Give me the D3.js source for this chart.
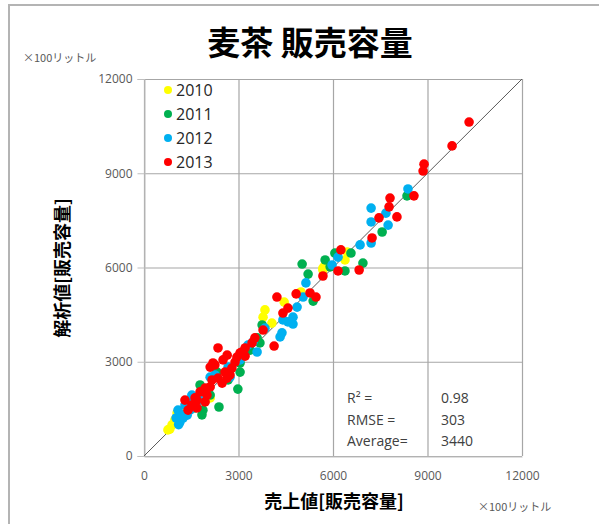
<!DOCTYPE html>
<html>
<head>
<meta charset="utf-8">
<script src="https://cdn.jsdelivr.net/npm/d3@7"></script>
<style>
  html, body { margin: 0; padding: 0; background: #ffffff; }
  svg { display: block; }
</style>
</head>
<body>
<svg id="chart" width="599" height="524"></svg>
<script>
// Tick values shared by both axes (unit: ×100 litres)
const tickValues = [0, 3000, 6000, 9000, 12000];
const years = ["2010", "2011", "2012", "2013"];
const yearColors = ["#ffff00", "#00b050", "#00b0f0", "#ff0000"];

// Actual sales volume (x) vs. analysed volume (y), one list per year
const sales2010 = [760, 820, 890, 980, 1050, 1140, 2100, 3780, 3840, 4060, 4450, 4980, 5680, 5680, 5750, 6380, 6450];
const model2010 = [830, 860, 990, 1150, 1370, 1400, 1850, 4420, 4650, 4230, 4900, 5220, 5980, 5920, 6080, 6240, 6490];

const sales2011 = [1620, 1840, 1870, 2100, 2380, 1780, 2670, 2980, 2320, 3050, 3050, 3370, 3680, 3750, 3590, 5370, 5020, 5210, 5750, 5910, 6060, 6380, 6570, 6950, 7560, 8350];
const model2011 = [1530, 1310, 1460, 1940, 1560, 2260, 2420, 2130, 2670, 2670, 2960, 3370, 3600, 4170, 3760, 4930, 6110, 5790, 6240, 6020, 6460, 5890, 6460, 6140, 7130, 8280];

const sales2012 = [1020, 1080, 1100, 1140, 1240, 1210, 1300, 1370, 1460, 1520, 1520, 1780, 2100, 2250, 2730, 2670, 3050, 3300, 3590, 3460, 3840, 4320, 4380, 4570, 4730, 4410, 4730, 4860, 5050, 5140, 5970, 6160, 6860, 7210, 7210, 7210, 7750, 7680, 8380];
const model2012 = [1210, 1460, 1000, 1080, 1210, 1310, 1620, 1300, 1460, 1940, 1850, 1780, 2510, 2580, 2510, 2830, 3060, 3530, 3310, 3630, 4070, 3790, 3920, 4270, 4200, 4330, 4420, 4740, 5060, 5510, 6080, 6330, 6720, 6780, 7450, 7890, 7350, 7730, 8500];

const sales2013 = [1300, 1400, 1520, 1620, 1680, 1680, 1780, 1940, 1940, 2000, 2160, 2100, 2350, 2480, 2570, 2640, 2730, 2190, 2100, 2250, 2510, 2790, 2890, 2350, 2640, 2950, 3050, 3210, 3210, 3430, 3110, 3520, 3780, 4130, 4220, 4410, 4570, 4830, 5270, 5460, 5680, 6160, 6830, 6250, 7240, 7460, 8030, 7780, 7810, 8570, 8860, 8890, 9780, 10320];
const model2013 = [1780, 1460, 1620, 1850, 1780, 1530, 2040, 2160, 1720, 1940, 2420, 2200, 2480, 2320, 2670, 2480, 2580, 2960, 2830, 2900, 3060, 2800, 2990, 3440, 3210, 3150, 3280, 3180, 3440, 3600, 3310, 3760, 4010, 3500, 5060, 4550, 4710, 5160, 5190, 5060, 5730, 5890, 5920, 6560, 6940, 7580, 7610, 7930, 8210, 8280, 9070, 9290, 9870, 10630];

// Fit statistics shown in the lower-right cells
const statLabels = ["R\u00b2 =", "RMSE =", "Average="];
const statValues = ["0.98", "303", "3440"];

const seriesX = [sales2010, sales2011, sales2012, sales2013];
const seriesY = [model2010, model2011, model2012, model2013];

const svg = d3.select("#chart");
const latin = "'Open Sans', 'Liberation Sans', sans-serif";
const cjk = "'Noto Sans CJK JP', sans-serif";

// Outer chart frame
svg.append("rect")
  .attr("x", 9).attr("y", 5).attr("width", 640).attr("height", 560)
  .attr("fill", "none").attr("stroke", "#b4b4b4").attr("stroke-width", 2);

const x = d3.scaleLinear().domain([0, 12000]).range([144, 522]);
const y = d3.scaleLinear().domain([0, 12000]).range([456, 79]);

// Gridlines
const grid = svg.append("g");
grid.selectAll("line.v").data(tickValues).join("line")
  .attr("x1", d => x(d) + 0.5).attr("x2", d => x(d) + 0.5)
  .attr("y1", y(0)).attr("y2", y(12000))
  .attr("stroke", "#a6a6a6").attr("stroke-width", 1.2);
grid.selectAll("line.h").data(tickValues).join("line")
  .attr("y1", d => y(d) + 0.5).attr("y2", d => y(d) + 0.5)
  .attr("x1", x(0)).attr("x2", x(12000))
  .attr("stroke", "#a6a6a6").attr("stroke-width", 1.2);

// Axes
const yAxis = svg.append("g")
  .attr("transform", `translate(${x(0) + 0.5},0)`)
  .call(d3.axisLeft(y).tickValues(tickValues).tickSize(7).tickPadding(5).tickFormat(d3.format("d")));
const xAxis = svg.append("g")
  .attr("transform", `translate(0,${y(0) + 0.5})`)
  .call(d3.axisBottom(x).tickValues(tickValues).tickSize(0).tickPadding(15).tickFormat(d3.format("d")));
[yAxis, xAxis].forEach(a => {
  a.select(".domain").attr("stroke", "#bfbfbf");
  a.selectAll(".tick line").attr("stroke", "#bfbfbf");
  a.selectAll(".tick text").attr("fill", "#595959")
    .style("font-family", latin).style("font-size", "12px");
});

// 1:1 reference line
svg.append("line")
  .attr("x1", x(0)).attr("y1", y(0)).attr("x2", x(12000)).attr("y2", y(12000))
  .attr("stroke", "#595959").attr("stroke-width", 1);

// Data points, drawn year by year
years.forEach((yr, i) => {
  const pts = seriesX[i].map((v, j) => [v, seriesY[i][j]]);
  svg.append("g").selectAll("circle").data(pts).join("circle")
    .attr("cx", d => x(d[0])).attr("cy", d => y(d[1]))
    .attr("r", 4.8).attr("fill", yearColors[i]);
});

// Legend
const legend = svg.append("g");
years.forEach((yr, i) => {
  const ly = 90 + i * 24;
  legend.append("circle").attr("cx", 168).attr("cy", ly).attr("r", 4).attr("fill", yearColors[i]);
  legend.append("text").attr("x", 176).attr("y", ly + 6).text(yr)
    .attr("fill", "#262626").style("font-family", latin).style("font-size", "16px");
});

// Statistics
statLabels.forEach((t, i) => {
  svg.append("text").attr("x", 347).attr("y", 403 + i * 21.5).text(t)
    .attr("fill", "#404040").style("font-family", latin).style("font-size", "14px");
  svg.append("text").attr("x", 441).attr("y", 403 + i * 21.5).text(statValues[i])
    .attr("fill", "#404040").style("font-family", latin).style("font-size", "14px");
});

// Title and axis titles
svg.append("text").attr("x", 310).attr("y", 55).attr("text-anchor", "middle")
  .text("麦茶 販売容量").attr("fill", "#000")
  .style("font-family", cjk).style("font-weight", "bold").style("font-size", "33px");

svg.append("text").attr("x", 334).attr("y", 508).attr("text-anchor", "middle")
  .text("売上値[販売容量]").attr("fill", "#000")
  .style("font-family", cjk).style("font-weight", "bold").style("font-size", "18px");

svg.append("text").attr("transform", "translate(69,268) rotate(-90)").attr("text-anchor", "middle")
  .text("解析値[販売容量]").attr("fill", "#000")
  .style("font-family", cjk).style("font-weight", "bold").style("font-size", "18px");

// Unit notes
svg.append("text").attr("x", 23).attr("y", 62).text("×100リットル")
  .attr("fill", "#595959").style("font-family", cjk).style("font-size", "11px");
svg.append("text").attr("x", 478).attr("y", 511).text("×100リットル")
  .attr("fill", "#595959").style("font-family", cjk).style("font-size", "11px");
</script>
</body>
</html>
